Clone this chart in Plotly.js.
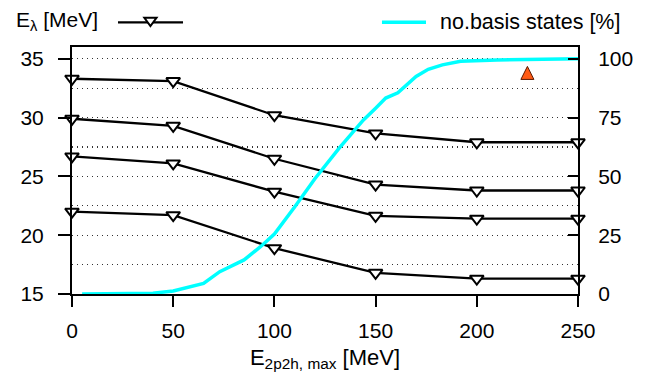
<!DOCTYPE html>
<html>
<head>
<meta charset="utf-8">
<script src="https://cdn.plot.ly/plotly-3.0.1.min.js"></script>
<style>html,body{margin:0;padding:0;background:#fff;}#chart{width:649px;height:374px;}</style>
</head>
<body>
<div id="chart"></div>
<script>
// E_2p2h,max values [MeV]
const energies = [0, 50, 100, 150, 200, 250];
// eigenvalues E_lambda [MeV]
const level1 = [33.3, 33.1, 30.2, 28.65, 27.9, 27.9];
const level2 = [29.9, 29.3, 26.5, 24.3, 23.8, 23.8];
const level3 = [26.7, 26.1, 23.7, 21.65, 21.4, 21.4];
const level4 = [22.0, 21.7, 18.9, 16.8, 16.3, 16.3];
// number of basis states [%]
const basisX = [5, 30, 40, 50, 60, 65, 73, 85, 93, 100, 110, 120, 132, 144, 150, 155, 161, 170, 176, 183, 192, 210, 250];
const basisPct = [0, 0, 0.3, 1.3, 3.3, 4.5, 9.5, 14.5, 20, 25.5, 37, 49, 62, 74, 79, 83.3, 85.5, 92.5, 95.5, 97.4, 98.9, 99.5, 100];
// single marked point (arrow tip)
const arrowX = [225];
const arrowY = [34.35];

const font = {family: 'Liberation Sans, Arial, sans-serif', size: 21, color: '#000'};
const levels = [level1, level2, level3, level4];
const traces = levels.map(v => ({
  x: energies, y: v, type: 'scatter', mode: 'lines+markers',
  line: {color: '#000', width: 2.3},
  marker: {symbol: 'triangle-down', size: 12, color: '#fff', line: {color: '#000', width: 2}},
  cliponaxis: false, showlegend: false, xaxis: 'x', yaxis: 'y'
}));
traces.push({
  x: basisX, y: basisPct, type: 'scatter', mode: 'lines',
  line: {color: '#00ffff', width: 3.5}, showlegend: false, xaxis: 'x', yaxis: 'y2'
});
traces.push({
  x: arrowX, y: arrowY, type: 'scatter', mode: 'markers',
  marker: {symbol: 'arrow-up', size: 13, color: '#ff5a14', line: {color: '#5a1800', width: 1}},
  showlegend: false, xaxis: 'x', yaxis: 'y'
});

const layout = {
  width: 649, height: 374,
  margin: {l: 72, r: 71, t: 47, b: 80},
  paper_bgcolor: '#fff', plot_bgcolor: '#fff',
  font: font,
  showlegend: false,
  xaxis: {
    range: [0, 250], tickvals: energies, ticks: 'outside', ticklen: 11, tickwidth: 2, tickcolor: '#000',
    showline: true, linewidth: 2, linecolor: '#000', mirror: true, showgrid: false, zeroline: false,
    ticklabelstandoff: 6, tickfont: font,
    title: {text: 'E<sub>2p2h, max</sub> [MeV]', font: {family: font.family, size: 22, color: '#000'}, standoff: 8}
  },
  yaxis: {
    range: [15, 36], tickvals: [15, 20, 25, 30, 35], ticks: 'outside', ticklen: 12, tickwidth: 2, tickcolor: '#000',
    showline: true, linewidth: 2, linecolor: '#000', zeroline: false,
    showgrid: true, gridcolor: '#333', griddash: '1px,4px', gridwidth: 1.2,
    minor: {dtick: 2.5, tick0: 15, showgrid: true, gridcolor: '#333', griddash: '1px,4px', gridwidth: 1.2, ticks: ''},
    ticklabelstandoff: 10, tickfont: font
  },
  yaxis2: {
    overlaying: 'y', side: 'right', range: [0, 105], tickvals: [0, 25, 50, 75, 100],
    ticks: 'inside', ticklen: 10, tickwidth: 2, tickcolor: '#000',
    showline: true, linewidth: 2, linecolor: '#000', showgrid: false, zeroline: false,
    ticklabelstandoff: 14, tickfont: font
  },
  annotations: [
    {xref: 'paper', yref: 'paper', x: -0.114, y: 1.105, xanchor: 'left', yanchor: 'middle',
     text: 'E<sub>λ</sub> [MeV]', showarrow: false, font: font},
    {xref: 'paper', yref: 'paper', x: 0.723, y: 1.1, xanchor: 'left', yanchor: 'middle',
     text: 'no.basis states [%]', showarrow: false, font: {family: font.family, size: 21.5, color: '#000'}}
  ],
  shapes: [
    {type: 'line', xref: 'paper', yref: 'paper', x0: 0.0909, x1: 0.2194, y0: 1.1, y1: 1.1, line: {color: '#000', width: 2.3}},
    {type: 'path', xref: 'paper', yref: 'paper',
     path: 'M 0.143 1.118 L 0.167 1.118 L 0.155 1.085 Z', fillcolor: '#fff', line: {color: '#000', width: 2}},
    {type: 'line', xref: 'paper', yref: 'paper', x0: 0.6126, x1: 0.6996, y0: 1.1, y1: 1.1, line: {color: '#00ffff', width: 3.5}}
  ]
};
Plotly.newPlot('chart', traces, layout, {staticPlot: true, displayModeBar: false});
</script>
</body>
</html>
